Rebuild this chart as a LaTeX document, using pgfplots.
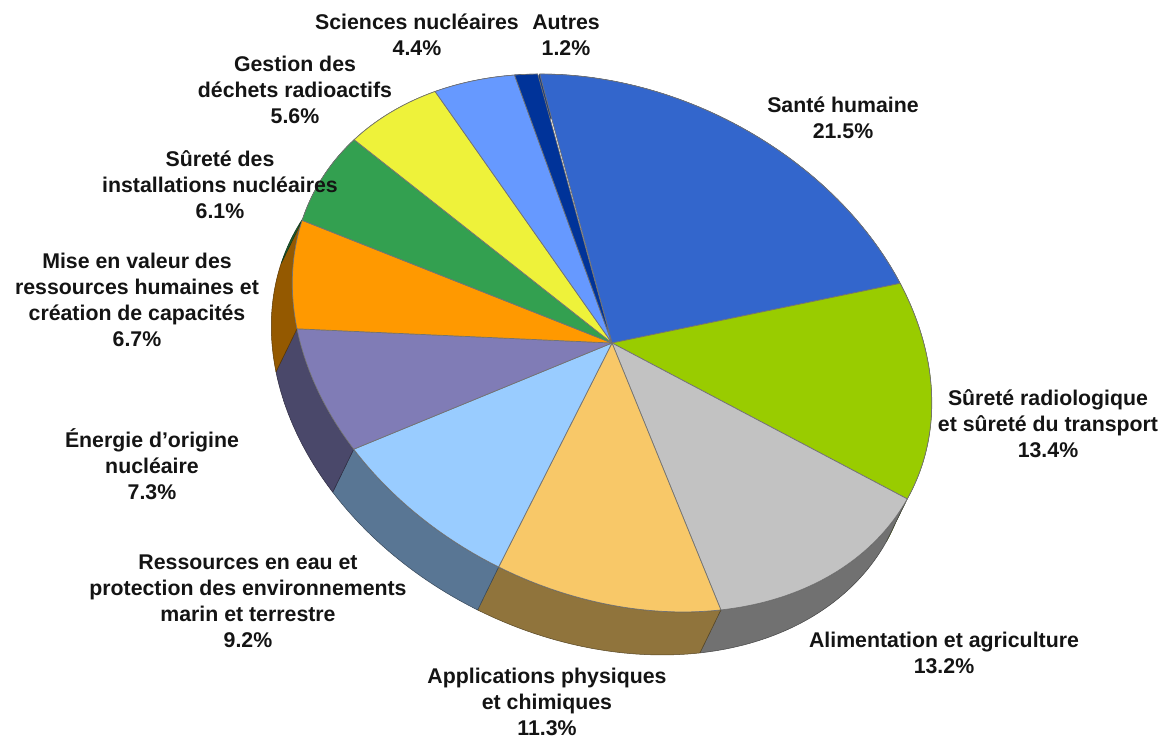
\documentclass[border=0pt]{standalone}
\usepackage{pgfplots}
\pgfplotsset{compat=1.18}
\usepackage{fontspec}
\setmainfont{Liberation Sans}

\definecolor{cSante}{RGB}{51,102,204}
\definecolor{cRadio}{RGB}{153,204,0}
\definecolor{cAlim}{RGB}{194,194,194}
\definecolor{cAppl}{RGB}{248,200,104}
\definecolor{cEau}{RGB}{153,204,255}
\definecolor{cEner}{RGB}{128,124,182}
\definecolor{cMise}{RGB}{255,153,0}
\definecolor{cSurInst}{RGB}{51,160,80}
\definecolor{cDech}{RGB}{238,242,58}
\definecolor{cSci}{RGB}{102,153,255}
\definecolor{cAutres}{RGB}{0,51,153}

% shares (percent), clockwise from the top
\def\vA{21.5}% Santé humaine
\def\vB{13.4}% Sûreté radiologique
\def\vC{13.2}% Alimentation
\def\vD{11.3}% Applications
\def\vE{9.2}%  Ressources en eau
\def\vF{7.3}%  Énergie
\def\vG{6.7}%  Mise en valeur
\def\vH{6.1}%  Sûreté des installations
\def\vI{5.6}%  Gestion des déchets
\def\vJ{4.4}%  Sciences nucléaires
\def\vK{1.2}%  Autres
\pgfmathsetmacro\kA{\vA}
\pgfmathsetmacro\kB{\kA+\vB}
\pgfmathsetmacro\kC{\kB+\vC}
\pgfmathsetmacro\kD{\kC+\vD}
\pgfmathsetmacro\kE{\kD+\vE}
\pgfmathsetmacro\kF{\kE+\vF}
\pgfmathsetmacro\kG{\kF+\vG}
\pgfmathsetmacro\kH{\kG+\vH}
\pgfmathsetmacro\kI{\kH+\vI}
\pgfmathsetmacro\kJ{\kI+\vJ}
\pgfmathsetmacro\kK{\kJ+\vK}

% geometry of the tilted pie (picture units = pt)
\def\CX{612}\def\CY{343}\def\RA{334}\def\RB{251}
\def\CT{0.8988}\def\ST{0.4384}\def\TZ{236.8}
\def\DX{-21}\def\DY{43}

\newcommand\topwedge[3]{%
  \addplot[fill=#3, draw=black!55, line width=0.7pt, line join=round,
    domain={\TZ+3.6*(#1)}:{\TZ+3.6*(#2)}, samples=60]
   ({\CX+\RA*cos(x)*\CT-\RB*sin(x)*\ST},{\CY+\RA*cos(x)*\ST+\RB*sin(x)*\CT})
   -- (axis cs:\CX,\CY) -- cycle;
}
\newcommand\sidewedge[3]{%
  \addplot[fill=#3!58!black, draw=#3!35!black, line width=0.5pt, line join=round,
    domain=0:2, samples=81]
   ({\CX+\DX*ifthenelse(x<1.01,0,1)
      +\RA*cos(\TZ+3.6*(#1)+3.6*((#2)-(#1))*ifthenelse(x<1.01,x,1-max(x-1.05,0)/0.95))*\CT
      -\RB*sin(\TZ+3.6*(#1)+3.6*((#2)-(#1))*ifthenelse(x<1.01,x,1-max(x-1.05,0)/0.95))*\ST},
    {\CY+\DY*ifthenelse(x<1.01,0,1)
      +\RA*cos(\TZ+3.6*(#1)+3.6*((#2)-(#1))*ifthenelse(x<1.01,x,1-max(x-1.05,0)/0.95))*\ST
      +\RB*sin(\TZ+3.6*(#1)+3.6*((#2)-(#1))*ifthenelse(x<1.01,x,1-max(x-1.05,0)/0.95))*\CT})
   -- cycle;
}

\tikzset{lbl/.style={font=\fontsize{21.3}{26}\selectfont\bfseries, align=center,
  text=black!92, inner sep=0pt, anchor=center}}

\begin{document}
\begin{tikzpicture}
\begin{axis}[width=1165pt, height=740pt, scale only axis,
  xmin=0, xmax=1165, ymin=0, ymax=740, y dir=reverse,
  hide axis, clip=false]
% sides
\sidewedge{0}{\kA}{cSante}
\sidewedge{\kA}{\kB}{cRadio}
\sidewedge{\kB}{\kC}{cAlim}
\sidewedge{\kC}{\kD}{cAppl}
\sidewedge{\kD}{\kE}{cEau}
\sidewedge{\kE}{\kF}{cEner}
\sidewedge{\kF}{\kG}{cMise}
\sidewedge{\kG}{\kH}{cSurInst}
\sidewedge{\kH}{\kI}{cDech}
\sidewedge{\kI}{\kJ}{cSci}
\sidewedge{\kJ}{\kK}{cAutres}
% top faces
\topwedge{0}{\kA}{cSante}
\topwedge{\kA}{\kB}{cRadio}
\topwedge{\kB}{\kC}{cAlim}
\topwedge{\kC}{\kD}{cAppl}
\topwedge{\kD}{\kE}{cEau}
\topwedge{\kE}{\kF}{cEner}
\topwedge{\kF}{\kG}{cMise}
\topwedge{\kG}{\kH}{cSurInst}
\topwedge{\kH}{\kI}{cDech}
\topwedge{\kI}{\kJ}{cSci}
\topwedge{\kJ}{\kK}{cAutres}
% labels
\node[lbl] at (axis cs:417,35) {Sciences nucléaires\\4.4\%};
\node[lbl] at (axis cs:566,35) {Autres\\1.2\%};
\node[lbl] at (axis cs:843,118) {Santé humaine\\21.5\%};
\node[lbl] at (axis cs:295,90) {Gestion des\\déchets radioactifs\\5.6\%};
\node[lbl] at (axis cs:220,185) {Sûreté des\\installations nucléaires\\6.1\%};
\node[lbl] at (axis cs:137,300) {Mise en valeur des\\ressources humaines et\\création de capacités\\6.7\%};
\node[lbl] at (axis cs:152,464) {Énergie d’origine\\nucléaire\\7.3\%};
\node[lbl] at (axis cs:248,601) {Ressources en eau et\\protection des environnements\\marin et terrestre\\9.2\%};
\node[lbl] at (axis cs:547,702) {Applications physiques\\et chimiques\\11.3\%};
\node[lbl] at (axis cs:944,653) {Alimentation et agriculture\\13.2\%};
\node[lbl] at (axis cs:1048,424) {Sûreté radiologique\\et sûreté du transport\\13.4\%};
\end{axis}
\pgfresetboundingbox
\path (0,0) rectangle (1165pt,740pt);
\end{tikzpicture}
\end{document}
